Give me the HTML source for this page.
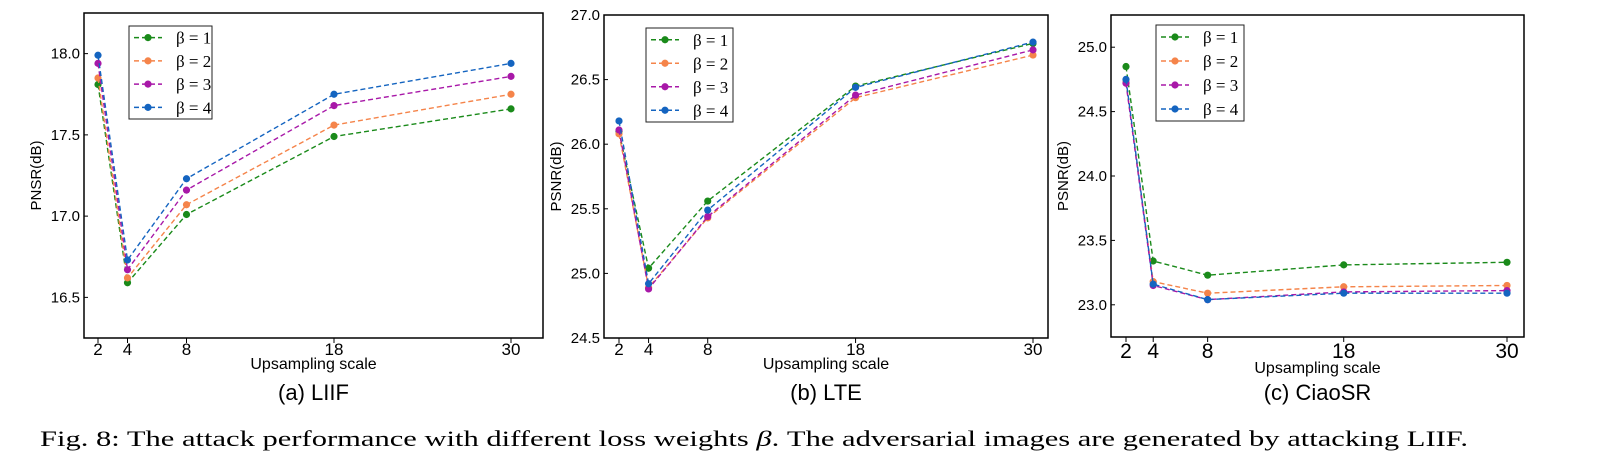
<!DOCTYPE html>
<html><head><meta charset="utf-8">
<style>
html,body{margin:0;padding:0;background:#fff;}
svg{display:block;font-family:"Liberation Sans",sans-serif;}
</style></head>
<body>
<svg id="fig" width="1608" height="473" viewBox="0 0 1608 473" xmlns="http://www.w3.org/2000/svg"></svg>
<script>
const scales = [2, 4, 8, 18, 30];
const seriesNames = ["β = 1", "β = 2", "β = 3", "β = 4"];
const liifB1 = [17.81, 16.59, 17.01, 17.49, 17.66];
const liifB2 = [17.85, 16.62, 17.07, 17.56, 17.75];
const liifB3 = [17.94, 16.67, 17.16, 17.68, 17.86];
const liifB4 = [17.99, 16.73, 17.23, 17.75, 17.94];
const lteB1 = [26.10, 25.04, 25.56, 26.45, 26.78];
const lteB2 = [26.08, 24.89, 25.43, 26.36, 26.69];
const lteB3 = [26.11, 24.88, 25.44, 26.38, 26.73];
const lteB4 = [26.18, 24.92, 25.49, 26.44, 26.79];
const ciaoB1 = [24.85, 23.34, 23.23, 23.31, 23.33];
const ciaoB2 = [24.73, 23.18, 23.09, 23.14, 23.15];
const ciaoB3 = [24.72, 23.15, 23.04, 23.10, 23.11];
const ciaoB4 = [24.75, 23.16, 23.04, 23.09, 23.09];
const liifTicks = [16.5, 17.0, 17.5, 18.0];
const lteTicks = [24.5, 25.0, 25.5, 26.0, 26.5, 27.0];
const ciaoTicks = [23.0, 23.5, 24.0, 24.5, 25.0];

const colors = ["#1a8a1a", "#f5844a", "#a818a8", "#1464c0"];
const NS = "http://www.w3.org/2000/svg";
const svg = document.getElementById("fig");
function mk(tag, attrs, parent) {
  const e = document.createElementNS(NS, tag);
  for (const k in attrs) e.setAttribute(k, attrs[k]);
  (parent || svg).appendChild(e);
  return e;
}

const panels = [
  {name:"liif", title:"(a) LIIF", ylabel:"PNSR(dB)", box:[84,13,543,338], x2:98, x30:511, ymin:16.25, ymax:18.25, ticks:liifTicks, data:[liifB1,liifB2,liifB3,liifB4], leg:[129,26,212,119], tickFs:17, tickBase:355, xlBase:369},
  {name:"lte", title:"(b) LTE", ylabel:"PSNR(dB)", box:[604,15,1048,338], x2:619, x30:1033, ymin:24.5, ymax:27.0, ticks:lteTicks, data:[lteB1,lteB2,lteB3,lteB4], leg:[646,28,733,122], tickFs:17, tickBase:355, xlBase:369},
  {name:"ciaosr", title:"(c) CiaoSR", ylabel:"PSNR(dB)", box:[1111,15,1524,337], x2:1126, x30:1507, ymin:22.75, ymax:25.25, ticks:ciaoTicks, data:[ciaoB1,ciaoB2,ciaoB3,ciaoB4], leg:[1156,25,1244,121], tickFs:21, tickBase:358, xlBase:373}
];

panels.forEach(p => {
  const g = mk("g", {});
  
  
  const [L,T,R,B] = p.box;
  const xs = v => p.x2 + (v - 2) * (p.x30 - p.x2) / 28;
  const ys = v => B - (v - p.ymin) * (B - T) / (p.ymax - p.ymin);
  const frame = mk("rect", {x:L, y:T, width:R-L, height:B-T, fill:"none", stroke:"#000", "stroke-width":1.5}, g);
  
  
  p.ticks.forEach(t => {
    const y = ys(t);
    mk("line", {x1:L, x2:L+4, y1:y, y2:y, stroke:"#000", "stroke-width":1}, g);
    const tl = mk("text", {x:L-4, y:y+5, "text-anchor":"end", "font-size":15, fill:"#000"}, g);
    tl.textContent = t.toFixed(1);
    
    
  });
  scales.forEach(s => {
    const x = xs(s);
    mk("line", {x1:x, x2:x, y1:B, y2:B+5, stroke:"#000", "stroke-width":1}, g);
    const tl = mk("text", {x:x, y:p.tickBase, "text-anchor":"middle", "font-size":p.tickFs, fill:"#000"}, g);
    tl.textContent = s;
    
    
  });
  const xl = mk("text", {x:(L+R)/2, y:p.xlBase, "text-anchor":"middle", "font-size":16, fill:"#000"}, g);
  xl.textContent = "Upsampling scale";
  
  
  const yl = mk("text", {x:0, y:0, "text-anchor":"middle", "font-size":15, fill:"#000", transform:`translate(${L-43},${(T+B)/2}) rotate(-90)`}, g);
  yl.textContent = p.ylabel;
  
  
  const st = mk("text", {x:(L+R)/2, y:400, "text-anchor":"middle", "font-size":22, fill:"#000"}, g);
  st.textContent = p.title;
  
  
  p.data.forEach((vals, i) => {
    const pts = vals.map((v, j) => xs(scales[j]).toFixed(1) + "," + ys(v).toFixed(1)).join(" ");
    const pl = mk("polyline", {points:pts, fill:"none", stroke:colors[i], "stroke-width":1.4, "stroke-dasharray":"5,3"}, g);
    
    
    vals.forEach((v, j) => {
      const c = mk("circle", {cx:xs(scales[j]), cy:ys(v), r:3.6, fill:colors[i]}, g);
      
      
    });
  });
  const [lx0,ly0,lx1,ly1] = p.leg;
  const lg = mk("g", {}, g);
  
  
  mk("rect", {x:lx0, y:ly0, width:lx1-lx0, height:ly1-ly0, fill:"#fff", stroke:"#222", "stroke-width":1}, lg);
  const step = (ly1-ly0)/4;
  seriesNames.forEach((n, i) => {
    const y = ly0 + step*(i+0.5);
    const e = mk("g", {}, lg);
    
    
    mk("line", {x1:lx0+5, x2:lx0+33, y1:y, y2:y, stroke:colors[i], "stroke-width":1.4, "stroke-dasharray":"5,3"}, e);
    mk("circle", {cx:lx0+19, cy:y, r:3.6, fill:colors[i]}, e);
    const t = mk("text", {x:lx0+47, y:y+6, "font-size":17, fill:"#000", "font-family":"Liberation Serif, serif"}, e);
    t.textContent = n;
  });
});

const cap = mk("text", {x:40, y:446, "font-size":22, fill:"#000", "font-family":"Liberation Serif, serif", textLength:1428, lengthAdjust:"spacingAndGlyphs"});


cap.innerHTML = 'Fig. 8: The attack performance with different loss weights <tspan font-style="italic">β</tspan>. The adversarial images are generated by attacking LIIF.';
</script>
</body></html>
